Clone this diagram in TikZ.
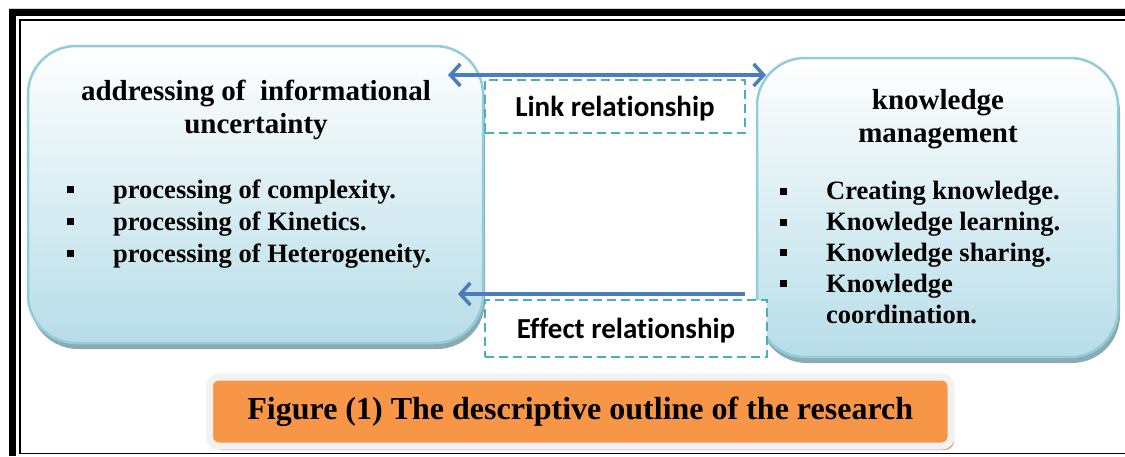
\documentclass[tikz,border=0pt]{standalone}
\usepackage{fontspec}
\setmainfont{Liberation Serif}
\newfontfamily\labelfont[Ligatures={NoCommon}]{Carlito}
\usetikzlibrary{arrows.meta, shadows}
\definecolor{box-border}{HTML}{92CDDC}
\definecolor{box-fill}{HTML}{B7DDE8}
\definecolor{box-shadow}{HTML}{8DA9B2}
\definecolor{rel-blue}{HTML}{4A7EBB}
\definecolor{rel-dash}{HTML}{4BACC6}
\definecolor{cap-orange}{HTML}{F79646}
\definecolor{cap-rim}{HTML}{F2F2F2}
\definecolor{cap-shadow}{HTML}{CFA585}
\newcommand{\sqbullet}{\makebox[46pt][l]{\rule[5pt]{7pt}{7pt}}}

\begin{document}
\begin{tikzpicture}[x=1pt, y=-1pt,
  infobox/.style={draw=box-border, line width=2.5pt, rounded corners=48pt,
    top color=white, bottom color=box-fill, inner sep=0pt, outer sep=0pt,
    drop shadow={shadow xshift=2pt, shadow yshift=-6pt, fill=box-shadow, opacity=1}},
  titletext/.style={align=center, font=\bfseries\fontsize{29}{33}\selectfont},
  listtext/.style={align=left, anchor=base west, inner sep=0pt},
  relbox/.style={draw=rel-dash, line width=2.5pt, dash pattern=on 9pt off 5pt,
    fill=white, inner sep=0pt, text depth=0pt,
    font=\labelfont\bfseries\fontsize{29}{34}\selectfont},
  relarrow/.style={draw=rel-blue, line width=3.5pt},
  barb/.tip={Straight Barb[length=10pt, width=22pt]}]
  \useasboundingbox (0,0) rectangle (1125,456);
  % frame
  \draw[gray!35, line width=1pt] (9,8) -- (1125,8);
  \draw[line width=7pt] (12.5,456) -- (12.5,12.5) -- (1125,12.5);
  \draw[line width=1.5pt] (1125,453.5) -- (20,453.5) -- (20,20) -- (1125,20);
  % the two blocks
  \node[infobox, minimum width=455pt, minimum height=297pt] (uncert) at (255.5,194.5) {};
  \node[infobox, minimum width=361pt, minimum height=299pt] (km) at (937.5,207.5) {};
  % base anchor = baseline of the last line
  \node[titletext, anchor=base] (uncert-title) at (256,133) {addressing of\ \ informational\\uncertainty};
  \node[titletext, anchor=base] (km-title) at (938,142) {knowledge\\management};
  \node[listtext, font=\bfseries\fontsize{26.5}{32}\selectfont] (uncert-list) at (67,262)
    {\sqbullet processing of complexity.\\
     \sqbullet processing of Kinetics.\\
     \sqbullet processing of Heterogeneity.};
  \node[listtext, font=\bfseries\fontsize{26.5}{30.8}\selectfont] (km-list) at (780,323)
    {\sqbullet Creating knowledge.\\
     \sqbullet Knowledge learning.\\
     \sqbullet Knowledge sharing.\\
     \sqbullet Knowledge\\
     \makebox[46pt]{}coordination.};
  % relations
  \node[relbox, minimum width=260pt, minimum height=53pt] (link) at (615,106.5) {Link relationship};
  \node[relbox, minimum width=282pt, minimum height=57pt] (effect) at (626,328.5) {Effect relationship};
  \draw[relarrow, barb-barb] ([shift={(-35pt,-29pt)}]uncert.north east) -- ([shift={(9pt,-17pt)}]km.north west);
  \draw[relarrow, -barb] ([shift={(-12pt,63pt)}]km.south west) -- ([shift={(-25pt,49pt)}]uncert.south east);
  % caption
  \node[fill=cap-orange, draw=cap-rim, line width=7pt, rounded corners=9pt,
    minimum width=741.5pt, minimum height=69pt, inner sep=0pt,
    drop shadow={shadow xshift=3pt, shadow yshift=-4pt, fill=cap-shadow, opacity=1},
    font=\bfseries\fontsize{32}{38}\selectfont] (caption) at (580.25,411.5)
    {Figure (1) The descriptive outline of the research};
\end{tikzpicture}
\end{document}
